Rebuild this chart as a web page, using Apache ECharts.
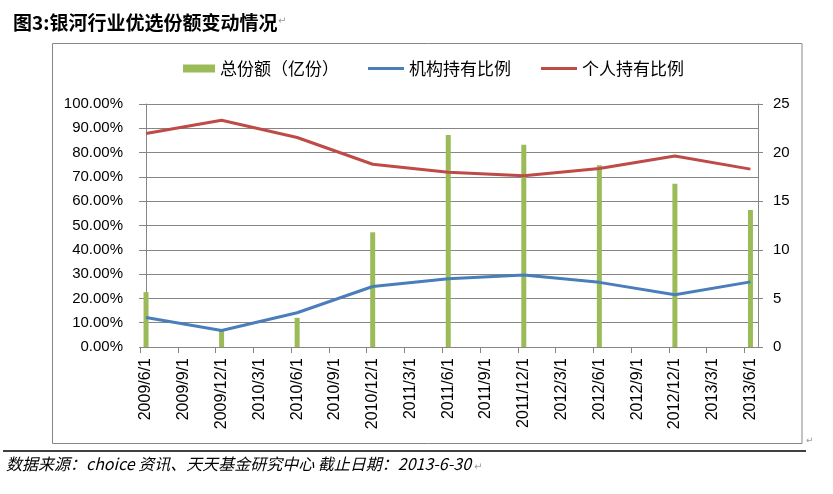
<!DOCTYPE html>
<html>
<head>
<meta charset="utf-8">
<script src="https://cdn.jsdelivr.net/npm/echarts@6/dist/echarts.min.js"></script>
<style>html,body{margin:0;padding:0;background:#fff;}#c{width:833px;height:494px;}</style>
</head>
<body>
<div id="c"></div>
<script>
const categories = ['2009/6/1','2009/9/1','2009/12/1','2010/3/1','2010/6/1','2010/9/1','2010/12/1','2011/3/1','2011/6/1','2011/9/1','2011/12/1','2012/3/1','2012/6/1','2012/9/1','2012/12/1','2013/3/1','2013/6/1'];
const totalShares   = [5.65, null, 1.7, null, 3.0, null, 11.8, null, 21.8, null, 20.8, null, 18.7, null, 16.8, null, 14.1];
const institutionPct = [12.1, null, 6.8, null, 14.1, null, 24.9, null, 28.1, null, 29.6, null, 26.6, null, 21.5, null, 26.8];
const individualPct  = [87.9, null, 93.3, null, 86.2, null, 75.2, null, 71.9, null, 70.5, null, 73.5, null, 78.6, null, 73.2];
const seriesNames = ['总份额（亿份）', '机构持有比例', '个人持有比例'];
const titleText = '图3:银河行业优选份额变动情况';
const footerText = '数据来源：choice 资讯、天天基金研究中心 截止日期：2013-6-30';

const toPairs = arr => arr.map((v, i) => v == null ? null : [i, v]).filter(p => p);
const gray = '#868686';
const chart = echarts.init(document.getElementById('c'), null, {renderer: 'canvas'});
chart.setOption({
  animation: false,
  backgroundColor: '#fff',
  title: {
    text: titleText, left: 8, top: 8,
    textStyle: {fontFamily: 'Noto Sans CJK SC', fontSize: 19, fontWeight: 'bold', color: '#000'}
  },
  legend: [
    {
      data: [{name: seriesNames[0], icon: 'rect'}], left: 178, top: 55,
      itemWidth: 32, itemHeight: 8,
      textStyle: {fontFamily: 'Noto Sans CJK SC', fontSize: 17, color: '#000'}
    },
    {
      data: [{name: seriesNames[1], icon: 'rect'}, {name: seriesNames[2], icon: 'rect'}], left: 363, top: 55,
      itemWidth: 36, itemHeight: 3, itemGap: 30,
      textStyle: {fontFamily: 'Noto Sans CJK SC', fontSize: 17, color: '#000'}
    }
  ],
  grid: {left: 140, right: 75, top: 104, bottom: 147, containLabel: false},
  xAxis: {
    type: 'value', min: -0.16, max: 16.2,
    axisLine: {show: true, lineStyle: {color: gray, width: 1}},
    axisTick: {show: true, length: 6, lineStyle: {color: gray}, customValues: categories.map((c, i) => i - 0.16)},
    axisLabel: {
      customValues: categories.map((c, i) => i),
      formatter: v => categories[Math.round(v)] || '',
      rotate: 90, margin: 11, fontSize: 16, color: '#000', fontFamily: 'Liberation Sans'
    },
    splitLine: {show: false}
  },
  yAxis: [
    {
      type: 'value', min: 0, max: 100, interval: 10, position: 'left',
      axisLine: {show: true, lineStyle: {color: gray}},
      axisTick: {show: true, length: 7, lineStyle: {color: gray}},
      splitLine: {show: true, lineStyle: {color: gray, width: 1}},
      axisLabel: {formatter: v => v.toFixed(2) + '%', fontSize: 15, margin: 17, color: '#000', fontFamily: 'Liberation Sans'}
    },
    {
      type: 'value', min: 0, max: 25, interval: 5, position: 'right',
      axisLine: {show: true, lineStyle: {color: gray}},
      axisTick: {show: true, length: 5, lineStyle: {color: gray}},
      splitLine: {show: false},
      axisLabel: {fontSize: 15, margin: 15, color: '#000', fontFamily: 'Liberation Sans'}
    }
  ],
  series: [
    {name: seriesNames[0], type: 'bar', yAxisIndex: 1, barWidth: 5, data: toPairs(totalShares), itemStyle: {color: '#9BBB59'}},
    {name: seriesNames[1], type: 'line', yAxisIndex: 0, symbol: 'none', data: toPairs(institutionPct), itemStyle: {color: '#4A7EBB'}, lineStyle: {color: '#4A7EBB', width: 3}},
    {name: seriesNames[2], type: 'line', yAxisIndex: 0, symbol: 'none', data: toPairs(individualPct), itemStyle: {color: '#BE4B48'}, lineStyle: {color: '#BE4B48', width: 3}}
  ],
  graphic: [
    {type: 'rect', shape: {x: 52.5, y: 43.5, width: 749.5, height: 400}, style: {fill: 'none', stroke: gray, lineWidth: 1}, silent: true},
    {type: 'line', shape: {x1: 3, y1: 451, x2: 806, y2: 451}, style: {stroke: '#000', lineWidth: 1.5}, silent: true},
    {type: 'text', left: 6, top: 456, style: {text: footerText, font: 'italic 16px "Noto Sans CJK SC"', fill: '#000'}},
    {type: 'text', left: 278, top: 16, style: {text: '↵', font: '10px "DejaVu Sans"', fill: '#999'}},
    {type: 'text', left: 474, top: 462, style: {text: '↵', font: '10px "DejaVu Sans"', fill: '#999'}},
    {type: 'text', left: 806, top: 436, style: {text: '↵', font: '9px "DejaVu Sans"', fill: '#999'}}
  ]
});
</script>
</body>
</html>
